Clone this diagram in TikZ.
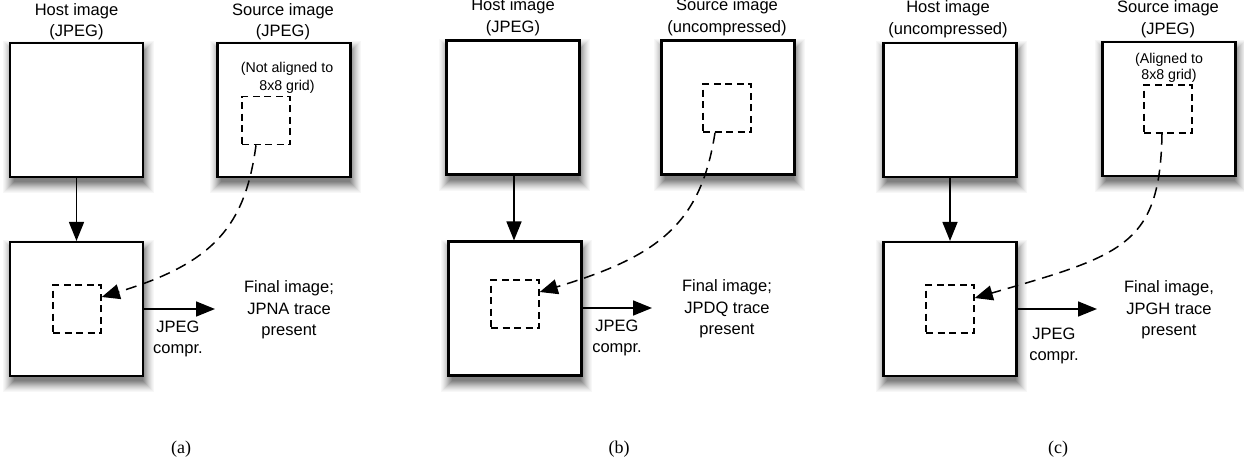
\documentclass[tikz,border=0pt]{standalone}
\usepackage{fontspec}
\setmainfont{Liberation Sans}
\newfontfamily\capfont{Liberation Serif}
\usetikzlibrary{arrows.meta,calc}
\newcommand\boxshadow[1]{%
  \fill[black!3]  ($(#1)+(-74,83)$) rectangle ($(#1)+(77,-69)$);
  \fill[black!6]  ($(#1)+(-73,82)$) rectangle ($(#1)+(76,-68)$);
  \fill[black!9]  ($(#1)+(-72,81)$) rectangle ($(#1)+(75,-67)$);
  \fill[black!13] ($(#1)+(-71,80)$) rectangle ($(#1)+(74,-66)$);
  \fill[black!17] ($(#1)+(-70,79)$) rectangle ($(#1)+(73,-65)$);
  \fill[black!21] ($(#1)+(-69,78)$) rectangle ($(#1)+(72,-64)$);
  \fill[black!26] ($(#1)+(-68,77)$) rectangle ($(#1)+(71,-63)$);
  \fill[black!31] ($(#1)+(-67,76)$) rectangle ($(#1)+(70,-62)$);
  \fill[black!36] ($(#1)+(-66,75)$) rectangle ($(#1)+(69,-61)$);
  \fill[black!41] ($(#1)+(-65,74)$) rectangle ($(#1)+(68,-60)$);
  \fill[black!46] ($(#1)+(-64,73)$) rectangle ($(#1)+(67,-59)$);
  \fill[black!50] ($(#1)+(-63,72)$) rectangle ($(#1)+(66,-58)$);
}
\begin{document}
\begin{tikzpicture}[x=1pt,y=-1pt,
  imgbox/.style={draw, line width=2.1pt, fill=white, minimum width=133pt, minimum height=134pt, inner sep=0pt},
  regbox/.style={draw, line width=1.5pt, dash pattern=on 7pt off 4.5pt, minimum width=48pt, minimum height=48pt, inner sep=0pt},
  lbl/.style={align=center, font=\fontsize{16.5}{21.5}\selectfont, inner sep=0pt},
  smalllbl/.style={align=center, font=\fontsize{14.2}{17.5}\selectfont, inner sep=0pt},
  caplbl/.style={font=\capfont\fontsize{18}{20}\selectfont, inner sep=0pt},
  solidarrow/.style={line width=1.6pt, -{Triangle[length=19pt,width=15pt]}},
  dasharrow/.style={line width=1.5pt, dash pattern=on 11pt off 7pt, -{Triangle[length=18pt,width=15pt]}}
]
\useasboundingbox (0,0) rectangle (1244,463);

% box centres
\coordinate (hta-c) at (76.5,110);
\coordinate (sta-c) at (284,110);
\coordinate (hba-c) at (76.5,309);
\coordinate (htb-c) at (513,107.5);
\coordinate (stb-c) at (728,107.5);
\coordinate (hbb-c) at (515,308.5);
\coordinate (htc-c) at (950,110);
\coordinate (stc-c) at (1169,109);
\coordinate (hbc-c) at (950,309);

% soft shadows
\boxshadow{hta-c}\boxshadow{sta-c}\boxshadow{hba-c}
\boxshadow{htb-c}\boxshadow{stb-c}\boxshadow{hbb-c}
\boxshadow{htc-c}\boxshadow{stc-c}\boxshadow{hbc-c}

% ---------------- panel (a)
\node[imgbox] (hta) at (hta-c) {};
\node[imgbox] (sta) at (sta-c) {};
\node[imgbox] (hba) at (hba-c) {};
\node[regbox] (sra) at (266,120.5) {};
\node[regbox] (ina) at (77,309) {};
\node[lbl] (tha) at (76.5,21.5) {Host image\\(JPEG)};
\node[lbl] (tsa) at (283,21.5) {Source image\\(JPEG)};
\node[smalllbl] (nta) at (287,78) {(Not aligned to\\8x8 grid)};
\node[lbl] (jca) at (178,339) {JPEG\\compr.};
\node[lbl] (fia) at (289,310) {Final image;\\JPNA trace\\present};
\node[caplbl] (cpa) at (181,449) {(a)};
\coordinate (sa0) at ([xshift=-10pt]sra.south);
\coordinate (ea0) at ([yshift=12pt]ina.east);
\coordinate (ra0) at (215,309);
\draw[solidarrow] (hta.south) -- (hba.north);
\draw[dasharrow] (sa0) .. controls ($(sa0)+(-11,81)$) and ($(ea0)+(112,-34)$) .. (ea0);
\draw[solidarrow] (hba.east |- ra0) -- (ra0);

% ---------------- panel (b)
\node[imgbox] (htb) at (htb-c) {};
\node[imgbox] (stb) at (stb-c) {};
\node[imgbox] (hbb) at (hbb-c) {};
\node[regbox] (srb) at (727,108) {};
\node[regbox] (inb) at (515,304) {};
\node[lbl] (thb) at (513,17) {Host image\\(JPEG)};
\node[lbl] (tsb) at (727,17) {Source image\\(uncompressed)};
\node[lbl] (jcb) at (617,338) {JPEG\\compr.};
\node[lbl] (fib) at (727,309) {Final image;\\JPDQ trace\\present};
\node[caplbl] (cpb) at (619,449) {(b)};
\coordinate (sb0) at ([xshift=-12pt]srb.south);
\coordinate (eb0) at ([yshift=12pt]inb.east);
\coordinate (rb0) at (652,308);
\coordinate (vb0) at (514,0);
\draw[solidarrow] (vb0 |- htb.south) -- (vb0 |- hbb.north);
\draw[dasharrow] (sb0) .. controls ($(sb0)+(-14,90)$) and ($(eb0)+(120,-36)$) .. (eb0);
\draw[solidarrow] (hbb.east |- rb0) -- (rb0);

% ---------------- panel (c)
\node[imgbox] (htc) at (htc-c) {};
\node[imgbox] (stc) at (stc-c) {};
\node[imgbox] (hbc) at (hbc-c) {};
\node[regbox] (src) at (1168,109) {};
\node[regbox] (inc) at (950,309) {};
\node[lbl] (thc) at (948,19) {Host image\\(uncompressed)};
\node[lbl] (tsc) at (1168,19) {Source image\\(JPEG)};
\node[smalllbl, font=\fontsize{14.2}{16}\selectfont] (ntc) at (1169,68) {(Aligned to\\8x8 grid)};
\node[lbl] (jcc) at (1054,346) {JPEG\\compr.};
\node[lbl] (fic) at (1169,310) {Final image,\\JPGH trace\\present};
\node[caplbl] (cpc) at (1058,449) {(c)};
\coordinate (sc0) at ([xshift=-6pt]src.south);
\coordinate (ec0) at ([yshift=11pt]inc.east);
\coordinate (rc0) at (1097,309);
\draw[solidarrow] (htc.south) -- (hbc.north);
\draw[dasharrow] (sc0) .. controls ($(sc0)+(-2,112)$) and ($(ec0)+(148,-43)$) .. (ec0);
\draw[solidarrow] (hbc.east |- rc0) -- (rc0);
\end{tikzpicture}
\end{document}
